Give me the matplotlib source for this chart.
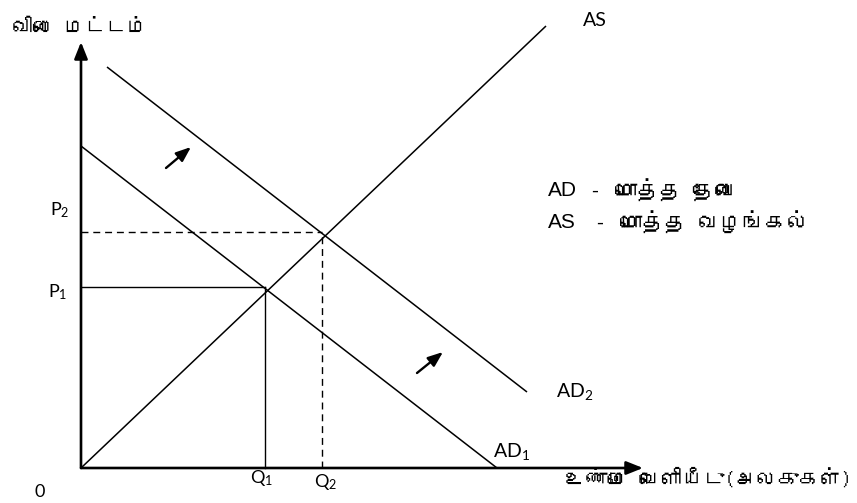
import matplotlib
matplotlib.use('Agg')
import matplotlib.pyplot as plt
from matplotlib import font_manager
from matplotlib.ft2font import FT2Font

# ---------------- data ----------------
as_x = [0, 46.5]
as_y = [0, 44.2]
ad1_x = [0, 41.6]
ad1_y = [32.2, 0]
ad2_x = [2.6, 44.6]
ad2_y = [40.1, 7.6]
q_vals = [18.4, 24.1]
p_vals = [18.1, 23.6]
q_labels = [r'Q$_1$', r'Q$_2$']
p_labels = [r'P$_1$', r'P$_2$']
shift_starts = [(8.5, 30.0), (33.6, 9.5)]
shift_ends = [(11.0, 32.1), (36.2, 11.6)]
y_axis_top = 42.6
x_axis_end = 56.2
y_title = 'விலை மட்டம்'
x_title = 'உண்மை வெளியீடு(அலகுகள்)'
legend_keys = ['AD', 'AS']
legend_desc = ['மொத்த தேவை', 'மொத்த வழங்கல்']

# ---------------- fonts ----------------
def find_tamil_font():
    cands = []
    for f in font_manager.fontManager.ttflist:
        cands.append(f.fname)
    for p in font_manager.findSystemFonts():
        if p not in cands:
            cands.append(p)
    for p in cands:
        try:
            if 0x0BB5 in FT2Font(p).get_charmap():
                try:
                    font_manager.fontManager.addfont(p)
                except Exception:
                    pass
                return font_manager.FontProperties(fname=p).get_name()
        except Exception:
            continue
    return None

tamil = find_tamil_font()
tam_fam = ([tamil] if tamil else []) + ['DejaVu Sans']

plt.rcParams['mathtext.fontset'] = 'custom'
plt.rcParams['mathtext.rm'] = 'Lato'
plt.rcParams['mathtext.it'] = 'Lato'
lat = 'Lato'

fig = plt.figure(figsize=(8.57, 5.03), dpi=100)
ax = fig.add_axes([0, 0, 1, 1])
ax.set_xlim(-8.1, 77.6)
ax.set_ylim(-3.5, 46.8)
ax.axis('off')

# axes with arrows
axis_style = dict(arrowstyle='-|>,head_length=1.0,head_width=0.4', lw=1.9,
                  color='black', shrinkA=0, shrinkB=0, mutation_scale=10)
ax.annotate('', xy=(0, y_axis_top), xytext=(0, 0), arrowprops=axis_style)
ax.annotate('', xy=(x_axis_end, 0), xytext=(0, 0), arrowprops=axis_style)

# curves
ax.plot(as_x, as_y, color='black', lw=1.1, solid_capstyle='butt')
ax.plot(ad1_x, ad1_y, color='black', lw=1.1, solid_capstyle='butt')
ax.plot(ad2_x, ad2_y, color='black', lw=1.1, solid_capstyle='butt')

# equilibrium guide lines
ax.plot([0, q_vals[0]], [p_vals[0], p_vals[0]], color='black', lw=1.0)
ax.plot([q_vals[0], q_vals[0]], [0, p_vals[0]], color='black', lw=1.0)
ax.plot([0, q_vals[1]], [p_vals[1], p_vals[1]], color='black', lw=1.0,
        dashes=(5, 3.5))
ax.plot([q_vals[1], q_vals[1]], [0, p_vals[1]], color='black', lw=1.0,
        dashes=(5, 3.5))

# shift arrows
for s, e in zip(shift_starts, shift_ends):
    ax.annotate('', xy=e, xytext=s,
                arrowprops=dict(arrowstyle='-|>,head_length=0.9,head_width=0.35',
                                lw=1.7, color='black', shrinkA=0, shrinkB=0,
                                mutation_scale=10))

# labels
ax.text(-6.9, 44.0, y_title, family=tam_fam, fontsize=15, fontweight='bold',
        ha='left', va='center')
ax.text(48.4, -1.1, x_title, family=tam_fam, fontsize=15.3, fontweight='bold',
        ha='left', va='center')
ax.text(-4.1, -2.4, '0', family=lat, fontsize=13, ha='center', va='center')
ax.text(-2.3, 17.6, p_labels[0], family=lat, fontsize=13, ha='center', va='center')
ax.text(-2.1, 25.8, p_labels[1], family=lat, fontsize=13, ha='center', va='center')
ax.text(18.1, -1.0, q_labels[0], family=lat, fontsize=13, ha='center', va='center')
ax.text(24.5, -1.4, q_labels[1], family=lat, fontsize=13, ha='center', va='center')
ax.text(51.4, 44.8, 'AS', family=lat, fontsize=14, ha='center', va='center')
ax.text(49.4, 7.6, r'AD$_2$', family=lat, fontsize=14, ha='center', va='center')
ax.text(43.1, 1.6, r'AD$_1$', family=lat, fontsize=14, ha='center', va='center')

leg_y = [27.7, 24.5]
dash_x = [51.35, 51.9]
desc_x = [53.4, 53.9]
for i in range(2):
    ax.text(46.7, leg_y[i], legend_keys[i], family='Liberation Sans',
            fontsize=15, ha='left', va='center')
    ax.text(dash_x[i], leg_y[i], '-', family='Liberation Sans',
            fontsize=15, ha='center', va='center')
    ax.text(desc_x[i], leg_y[i], legend_desc[i], family=tam_fam,
            fontsize=16, ha='left', va='center')

fig.savefig('out.png', dpi=100, facecolor='white')
